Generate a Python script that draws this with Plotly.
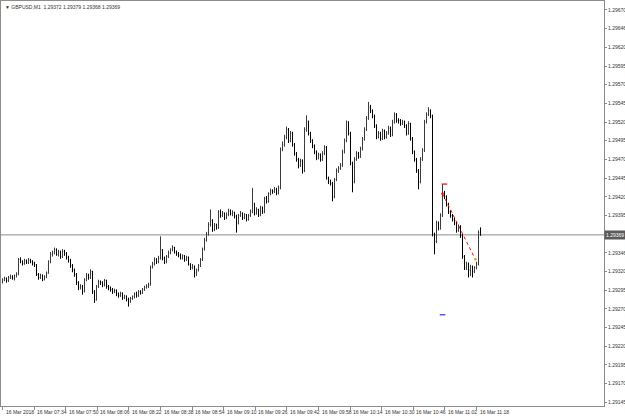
import plotly.graph_objects as go

# Prices are quoted in points above 1.29000 (1 point = 0.00001)
BASE = 1.29
PT = 0.00001

open_pts = [
    306, 309, 311, 308, 312, 313, 311, 314, 316, 336,
    333, 331, 334, 332, 335, 333, 331, 329, 316, 312,
    315, 310, 313, 318, 333, 343, 345, 349, 343, 346,
    340, 347, 344, 339, 335, 328, 322, 316, 305, 298,
    300, 293, 309, 315, 312, 320, 293, 282, 300, 306,
    305, 302, 308, 300, 298, 296, 293, 295, 290, 288,
    291, 285, 287, 283, 280, 284, 286, 290, 288, 293,
    291, 296, 299, 300, 302, 326, 330, 336, 333, 338,
    349, 338, 333, 340, 345, 349, 352, 346, 344, 342,
    338, 341, 336, 339, 330, 325, 327, 318, 322, 328,
    336, 350, 362, 370, 383, 388, 376, 382, 379, 400,
    395, 398, 392, 396, 401, 397, 399, 394, 385, 395,
    398, 392, 396, 390, 395, 400, 410, 398, 403, 396,
    405, 400, 418, 414, 424, 428, 427, 430, 425, 432,
    484, 490, 500, 510, 495, 505, 490, 478, 470, 462,
    468, 455, 510, 520, 505, 495, 488, 480, 472, 476,
    470, 478, 486, 445, 440, 438, 420, 443, 455, 458,
    462, 480, 495, 520, 505, 465, 440, 470, 478, 474,
    484, 497, 510, 525, 540, 535, 528, 515, 500, 505,
    498, 508, 500, 505, 512, 503, 520, 530, 522, 522,
    518, 520, 515, 505, 518, 498, 480, 470, 455, 440,
    470, 482, 520, 530, 535, 528, 370, 360, 385, 378,
    395, 425, 420, 410, 400, 395, 390, 385, 375, 380,
    368, 340, 325, 330, 322, 326, 320, 325, 330, 372,
]

high_pts = [
    311, 313, 312, 314, 316, 315, 316, 319, 338, 339,
    335, 337, 336, 338, 337, 335, 333, 330, 318, 317,
    316, 315, 320, 335, 346, 348, 352, 351, 349, 348,
    350, 349, 346, 341, 337, 330, 324, 318, 307, 303,
    302, 311, 318, 317, 323, 321, 295, 302, 309, 308,
    307, 310, 309, 302, 300, 298, 297, 296, 292, 293,
    292, 289, 288, 285, 286, 288, 292, 293, 295, 295,
    298, 301, 303, 305, 328, 333, 339, 338, 341, 367,
    350, 340, 342, 348, 351, 355, 353, 348, 346, 344,
    343, 342, 341, 340, 331, 330, 328, 324, 330, 338,
    352, 365, 373, 386, 403, 390, 385, 384, 402, 403,
    401, 399, 399, 404, 403, 402, 400, 396, 397, 401,
    399, 398, 397, 397, 403, 432, 412, 406, 404, 408,
    407, 420, 421, 426, 431, 430, 433, 432, 435, 486,
    494, 503, 514, 512, 508, 507, 492, 480, 472, 471,
    470, 513, 529, 522, 507, 497, 490, 482, 479, 478,
    481, 489, 488, 447, 443, 440, 445, 458, 461, 465,
    483, 498, 522, 521, 507, 467, 473, 481, 480, 487,
    500, 513, 528, 547, 543, 537, 530, 517, 508, 507,
    511, 510, 508, 515, 514, 523, 533, 532, 525, 524,
    523, 522, 517, 521, 519, 500, 482, 472, 457, 473,
    485, 523, 533, 540, 537, 530, 372, 388, 387, 398,
    437, 428, 422, 412, 402, 397, 392, 387, 383, 382,
    370, 342, 333, 332, 329, 328, 327, 333, 375, 379,
]

low_pts = [
    304, 307, 305, 306, 310, 309, 308, 312, 315, 331,
    328, 329, 330, 330, 331, 328, 326, 314, 309, 310,
    307, 308, 311, 317, 331, 340, 343, 341, 340, 337,
    338, 341, 336, 332, 325, 319, 313, 302, 295, 296,
    289, 292, 307, 309, 310, 290, 278, 281, 298, 302,
    299, 300, 297, 295, 293, 290, 291, 287, 285, 286,
    282, 283, 280, 273, 278, 282, 284, 285, 286, 289,
    290, 294, 297, 298, 301, 324, 328, 330, 331, 336,
    335, 330, 331, 338, 343, 347, 344, 341, 339, 336,
    336, 333, 334, 328, 322, 323, 312, 314, 320, 326,
    334, 348, 360, 368, 380, 373, 374, 376, 377, 392,
    393, 389, 390, 394, 395, 394, 391, 372, 383, 393,
    389, 390, 387, 388, 393, 398, 395, 396, 393, 394,
    397, 398, 411, 412, 422, 424, 425, 422, 423, 430,
    481, 487, 497, 492, 493, 487, 475, 467, 458, 460,
    451, 453, 507, 502, 492, 485, 477, 469, 470, 467,
    468, 476, 443, 437, 435, 414, 418, 441, 452, 456,
    460, 478, 493, 502, 462, 426, 438, 468, 471, 472,
    482, 495, 508, 523, 532, 525, 512, 497, 498, 495,
    496, 497, 498, 503, 500, 501, 518, 519, 518, 515,
    516, 512, 502, 503, 495, 477, 467, 452, 430, 438,
    468, 480, 518, 528, 525, 367, 343, 358, 375, 376,
    393, 417, 407, 397, 392, 387, 382, 372, 373, 365,
    337, 322, 322, 312, 314, 312, 318, 323, 328, 368,
]

close_pts = [
    309, 311, 308, 312, 313, 311, 314, 316, 336, 333,
    331, 334, 332, 335, 333, 331, 329, 316, 312, 315,
    310, 313, 318, 333, 343, 345, 349, 343, 346, 340,
    347, 344, 339, 335, 328, 322, 316, 305, 298, 300,
    293, 309, 315, 312, 320, 293, 282, 300, 306, 305,
    302, 308, 300, 298, 296, 293, 295, 290, 288, 291,
    285, 287, 283, 280, 284, 286, 290, 288, 293, 291,
    296, 299, 300, 302, 326, 330, 336, 333, 338, 349,
    338, 333, 340, 345, 349, 352, 346, 344, 342, 338,
    341, 336, 339, 330, 325, 327, 318, 322, 328, 336,
    350, 362, 370, 383, 388, 376, 382, 379, 400, 395,
    398, 392, 396, 401, 397, 399, 394, 385, 395, 398,
    392, 396, 390, 395, 400, 410, 398, 403, 396, 405,
    400, 418, 414, 424, 428, 427, 430, 425, 432, 484,
    490, 500, 510, 495, 505, 490, 478, 470, 462, 468,
    455, 510, 520, 505, 495, 488, 480, 472, 476, 470,
    478, 486, 445, 440, 438, 420, 443, 455, 458, 462,
    480, 495, 520, 505, 465, 440, 470, 478, 474, 484,
    497, 510, 525, 540, 535, 528, 515, 500, 505, 498,
    508, 500, 505, 512, 503, 520, 530, 522, 522, 518,
    520, 515, 505, 518, 498, 480, 470, 455, 440, 470,
    482, 520, 530, 535, 528, 370, 360, 385, 378, 395,
    425, 420, 410, 400, 395, 390, 385, 375, 380, 368,
    340, 325, 330, 322, 326, 320, 325, 330, 372, 369,
]

time_labels = ["16 Mar 2018", "16 Mar 07:34", "16 Mar 07:50", "16 Mar 08:06",
               "16 Mar 08:22", "16 Mar 08:38", "16 Mar 08:54", "16 Mar 09:10",
               "16 Mar 09:26", "16 Mar 09:42", "16 Mar 09:58", "16 Mar 10:14",
               "16 Mar 10:30", "16 Mar 10:46", "16 Mar 11:02", "16 Mar 11:18"]

price_ticks = [1.29145, 1.29170, 1.29195, 1.29220, 1.29245, 1.29270, 1.29295,
               1.29320, 1.29345, 1.29395, 1.29420, 1.29445, 1.29470, 1.29495,
               1.29520, 1.29545, 1.29570, 1.29595, 1.29620, 1.29645, 1.29670]
price_tick_text = ["1.29145", "1.29170", "1.29195", "1.29220", "1.29245", "1.29270",
                   "1.29295", "1.29320", "1.29346", "1.29395", "1.29420", "1.29445",
                   "1.29470", "1.29495", "1.29520", "1.29545", "1.29570", "1.29595",
                   "1.29620", "1.29646", "1.29670"]

last_price = 1.29369
title_text = "▼ GBPUSD,M1  1.29372 1.29379 1.29368 1.29369"

# trade markers (bar index, price)
trade_line_x = [220, 236.5]
trade_line_y = [1.29424, 1.29336]
open_mark_x = [221]
open_mark_y = [1.29437]
close_mark_x = [236.5]
close_mark_y = [1.29336]
blue_mark_x = [220]
blue_mark_y = [1.29262]

to_price = lambda arr: [round(BASE + v * PT, 5) for v in arr]
o = to_price(open_pts)
h = to_price(high_pts)
l = to_price(low_pts)
c = to_price(close_pts)
xb = list(range(len(c)))

FONT = "Liberation Sans, Arial, sans-serif"

fig = go.Figure()
fig.add_trace(go.Ohlc(
    x=xb, open=o, high=h, low=l, close=c,
    increasing=dict(line=dict(color="#3c3c3c", width=1)),
    decreasing=dict(line=dict(color="#000000", width=1)),
    tickwidth=0.3, showlegend=False, hoverinfo="skip"))

fig.add_trace(go.Scatter(x=trade_line_x, y=trade_line_y, mode="lines",
                         line=dict(color="#ff0000", width=1, dash="dot"),
                         showlegend=False, hoverinfo="skip"))
fig.add_trace(go.Scatter(x=open_mark_x, y=open_mark_y, mode="markers",
                         marker=dict(symbol="line-ew", size=4,
                                     line=dict(color="#ff0000", width=1.2)),
                         showlegend=False, hoverinfo="skip"))
fig.add_trace(go.Scatter(x=[trade_line_x[0]], y=[trade_line_y[0]], mode="markers",
                         marker=dict(symbol="circle", size=2.5, color="#ff0000"),
                         showlegend=False, hoverinfo="skip"))
fig.add_trace(go.Scatter(x=close_mark_x, y=close_mark_y, mode="markers",
                         marker=dict(symbol="circle", size=2.5, color="#f0a020"),
                         showlegend=False, hoverinfo="skip"))
fig.add_trace(go.Scatter(x=blue_mark_x, y=blue_mark_y, mode="markers",
                         marker=dict(symbol="line-ew", size=4,
                                     line=dict(color="#0000ff", width=1)),
                         showlegend=False, hoverinfo="skip"))

fig.add_shape(type="line", xref="paper", x0=0, x1=1, yref="y",
              y0=last_price, y1=last_price, line=dict(color="#8c8c8c", width=1),
              layer="below")

label_pos = [k * 15.8 for k in range(len(time_labels))]
for xp, txt in zip(label_pos, time_labels):
    fig.add_annotation(x=xp, y=0, xref="x", yref="paper", text=txt,
                       showarrow=False, xanchor="left", yanchor="top",
                       xshift=1, yshift=-1,
                       font=dict(size=5, family=FONT, color="#333333"))

fig.add_annotation(x=0, y=1, xref="paper", yref="paper", text=title_text,
                   showarrow=False, xanchor="left", yanchor="top",
                   xshift=2, yshift=-1,
                   font=dict(size=5, family=FONT, color="#333333"))

fig.add_annotation(x=1, y=last_price, xref="paper", yref="y", text="1.29369",
                   showarrow=False, xanchor="left", yanchor="middle",
                   xshift=0, bgcolor="#5a5a5a", borderpad=1,
                   font=dict(size=5, family=FONT, color="#ffffff"))

fig.update_layout(
    width=625, height=416,
    margin=dict(l=1, r=21, t=1, b=10, autoexpand=False),
    paper_bgcolor="white", plot_bgcolor="white",
    showlegend=False,
    xaxis=dict(range=[-0.75, 300.75], showgrid=False, zeroline=False,
               showline=True, mirror=True, linecolor="#8c8c8c", linewidth=1,
               ticks="outside", ticklen=3, tickcolor="#8c8c8c",
               tickvals=label_pos, showticklabels=False,
               rangeslider=dict(visible=False), fixedrange=True),
    yaxis=dict(range=[1.29140, 1.29682], side="right", showgrid=False,
               zeroline=False, showline=True, mirror=True,
               linecolor="#8c8c8c", linewidth=1,
               ticks="outside", ticklen=2, tickcolor="#8c8c8c",
               tickvals=price_ticks, ticktext=price_tick_text,
               tickfont=dict(size=5, family=FONT, color="#333333"),
               fixedrange=True),
)

fig.write_html("out.html", config={"displayModeBar": False},
               post_script="document.body.style.margin='0';document.body.style.padding='0';document.body.style.overflow='hidden';")
